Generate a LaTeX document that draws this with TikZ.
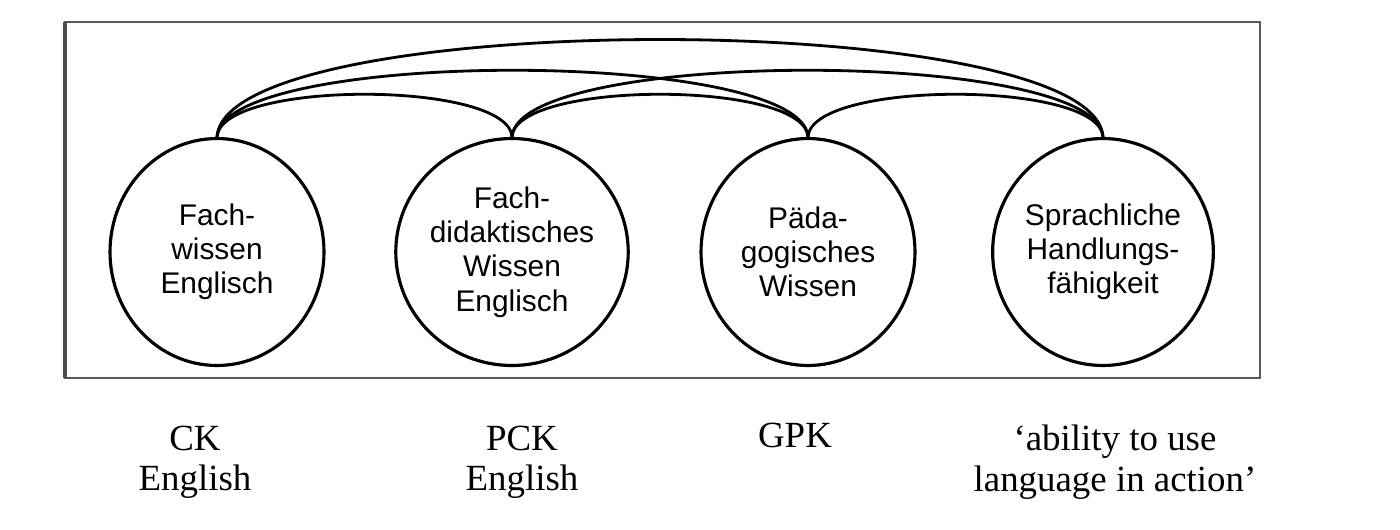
\documentclass[tikz,border=0pt]{standalone}
\usepackage{fontspec}
\setmainfont{Liberation Serif}
\newfontfamily\arialf{Liberation Sans}
\usetikzlibrary{shapes.geometric}
\begin{document}
\begin{tikzpicture}[x=0.02cm,y=-0.02cm,
  bub/.style={ellipse,draw,line width=1.8pt,minimum width=4.28cm,minimum height=4.54cm,inner sep=0pt,align=center,font=\arialf\fontsize{17}{19.5}\selectfont},
  arc/.style={line width=1.6pt},
  lab/.style={align=center,font=\fontsize{21}{23}\selectfont}]
\useasboundingbox (0,0) rectangle (1400,529);
\draw[gray!70!black,line width=1.3pt] (65,22) rectangle (1260,378);
\draw[gray!60!black,line width=2.4pt] (65,22) -- (65,378);
\node[bub] (c1) at (217,252) {Fach-\\wissen\\Englisch};
\node[bub] (c2) at (512,252) {Fach-\\didaktisches\\Wissen\\Englisch};
\node[bub] (c3) at (808,252) {Päda-\\gogisches\\Wissen};
\node[bub] (c4) at (1103,252) {Sprachliche\\Handlungs-\\fähigkeit};
\coordinate (t1) at (217,137);
\coordinate (t2) at (512,137);
\coordinate (t3) at (808,137);
\coordinate (t4) at (1103,137);
\draw[arc] (t1) -- (c1.north);
\draw[arc] (t2) -- (c2.north);
\draw[arc] (t3) -- (c3.north);
\draw[arc] (t4) -- (c4.north);
\draw[arc] (t1) .. controls (220,80) and (509,80) .. (t2);
\draw[arc] (t2) .. controls (515,80) and (805,80) .. (t3);
\draw[arc] (t3) .. controls (811,80) and (1100,80) .. (t4);
\draw[arc] (t1) .. controls (222,48) and (803,48) .. (t3);
\draw[arc] (t2) .. controls (517,48) and (1098,48) .. (t4);
\draw[arc] (t1) .. controls (225,7) and (1095,7) .. (t4);
\node[lab] (e1) at (195,462) {CK\\English};
\node[lab] (e2) at (522,462) {PCK\\English};
\node[lab] (e3) at (795,462) {GPK\\\strut};
\node[lab] (e4) at (1115,462) {‘ability to use\\language in action’};
\end{tikzpicture}
\end{document}
